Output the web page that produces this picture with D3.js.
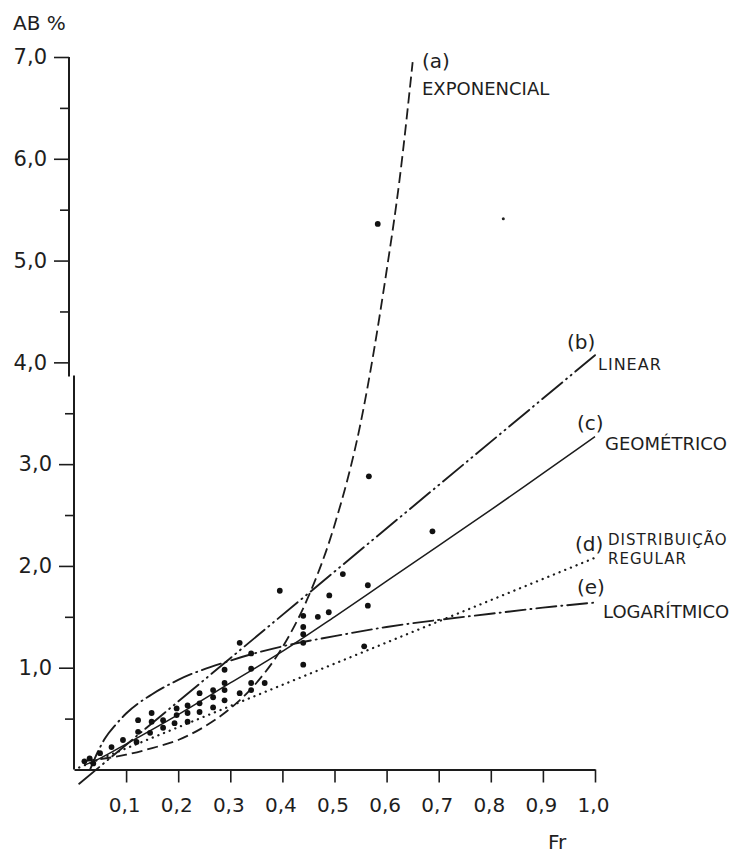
<!DOCTYPE html>
<html>
<head>
<meta charset="utf-8">
<script src="https://cdn.jsdelivr.net/npm/d3@7/dist/d3.min.js"></script>
<style>
  html, body { margin: 0; padding: 0; background: #fff; }
  svg { display: block; }
  text { font-family: "DejaVu Sans", sans-serif; fill: #1e1e1e; }
</style>
</head>
<body>
<svg id="chart" width="739" height="853"></svg>
<script>
// ---------- data ----------
const xTicks = [0.1, 0.2, 0.3, 0.4, 0.5, 0.6, 0.7, 0.8, 0.9, 1.0];
const yTicksUpper = [4, 5, 6, 7];
const yMinorUpper = [4.5, 5.5, 6.5];
const yTicksLower = [1, 2, 3];
const yMinorLower = [0.5, 1.5, 2.5, 3.5];

// observed points (Fr, AB%)
const pointFr = [0.02, 0.03, 0.037, 0.05, 0.072, 0.094, 0.12, 0.123, 0.123, 0.146,
  0.149, 0.149, 0.171, 0.171, 0.193, 0.197, 0.197, 0.218, 0.218, 0.218,
  0.241, 0.241, 0.241, 0.267, 0.267, 0.267, 0.289, 0.289, 0.289, 0.289,
  0.318, 0.318, 0.34, 0.34, 0.34, 0.34, 0.366, 0.395, 0.44, 0.44,
  0.44, 0.44, 0.44, 0.468, 0.489, 0.49, 0.516, 0.557, 0.564, 0.564,
  0.566, 0.583, 0.688];
const pointAB = [0.08, 0.11, 0.06, 0.16, 0.22, 0.29, 0.27, 0.37, 0.485, 0.36,
  0.47, 0.555, 0.41, 0.485, 0.455, 0.535, 0.60, 0.47, 0.555, 0.63,
  0.565, 0.65, 0.75, 0.61, 0.71, 0.78, 0.68, 0.78, 0.85, 0.98,
  0.75, 1.245, 0.78, 0.85, 0.99, 1.14, 0.85, 1.756, 1.03, 1.245,
  1.33, 1.40, 1.51, 1.50, 1.545, 1.71, 1.92, 1.21, 1.61, 1.81,
  2.88, 5.36, 2.34];
// tiny speck
const speckFr = [0.824];
const speckAB = [5.41];

// (a) exponencial
const expFr = [0.02, 0.1, 0.15, 0.2, 0.25, 0.3, 0.35, 0.4, 0.45, 0.5, 0.55, 0.6, 0.625, 0.65];
const expAB = [0.083, 0.145, 0.21, 0.29, 0.42, 0.60, 0.85, 1.2, 1.70, 2.4, 3.4, 4.9, 5.8, 6.95];
// (b) linear
const linFr = [0.01, 1.0];
const linAB = [-0.14, 4.07];
// (c) geométrico
const geoFr = [0.02, 0.05, 0.1, 0.2, 0.3, 0.4, 0.5, 0.6, 0.7, 0.8, 0.9, 1.0];
const geoAB = [0.043, 0.11, 0.25, 0.54, 0.85, 1.16, 1.50, 1.85, 2.20, 2.55, 2.91, 3.27];
// (d) distribuição regular
const regFr = [0.01, 1.0];
const regAB = [0.02, 2.08];
// (e) logarítmico
const logFr = [0.031, 0.04, 0.06, 0.08, 0.1, 0.15, 0.2, 0.3, 0.4, 0.5, 0.6, 0.7, 0.8, 0.9, 1.0];
const logAB = [0.0, 0.11, 0.31, 0.44, 0.55, 0.74, 0.88, 1.07, 1.21, 1.31, 1.40, 1.47, 1.53, 1.59, 1.64];

// ---------- drawing ----------
const svg = d3.select("#chart");
const x = d3.scaleLinear().domain([0, 1]).range([74, 595]);
const y = d3.scaleLinear().domain([0, 7]).range([769.5, 57]);
const fmt = d => d.toFixed(1).replace(".", ",");
const ink = "#1c1c1c";

// x axis
const gx = svg.append("g")
  .attr("transform", `translate(0,${y(0)})`)
  .call(d3.axisBottom(x).tickValues(xTicks).tickSize(13).tickSizeOuter(0)
    .tickPadding(15).tickFormat(fmt));
gx.select(".domain").attr("stroke", ink).attr("stroke-width", 2);
gx.selectAll(".tick line").attr("stroke", ink).attr("stroke-width", 1.6);
gx.selectAll(".tick text").attr("font-size", 20).attr("font-family", "DejaVu Sans")
  .attr("fill", "#222").attr("dx", -2);

// y axis (drawn as two segments, as in the original scan)
function yAxisPart(xpos, majors, minors, lo, hi) {
  const g = svg.append("g").attr("transform", `translate(${xpos},0)`);
  g.call(d3.axisLeft(y).tickValues(majors).tickSize(15).tickSizeOuter(0)
    .tickPadding(7).tickFormat(fmt));
  g.select(".domain").remove();
  g.selectAll(".tick line").attr("stroke", ink).attr("stroke-width", 1.6);
  g.selectAll(".tick text").attr("font-size", 21).attr("font-family", "DejaVu Sans").attr("fill", "#222");
  const gm = svg.append("g").attr("transform", `translate(${xpos},0)`);
  gm.call(d3.axisLeft(y).tickValues(minors).tickSize(9).tickSizeOuter(0).tickFormat(""));
  gm.select(".domain").remove();
  gm.selectAll(".tick line").attr("stroke", ink).attr("stroke-width", 1.6);
  svg.append("line").attr("x1", xpos).attr("x2", xpos)
    .attr("y1", y(lo)).attr("y2", y(hi))
    .attr("stroke", ink).attr("stroke-width", 2);
}
yAxisPart(69, yTicksUpper, yMinorUpper, 3.86, 7);
yAxisPart(74, yTicksLower, yMinorLower, 0, 3.87);

// axis titles
svg.append("text").attr("x", 13).attr("y", 30).attr("font-size", 20).text("AB %");
svg.append("text").attr("x", 548).attr("y", 849).attr("font-size", 20).text("Fr");

// curves
const line = d3.line().x(d => x(d[0])).y(d => y(d[1]));
const smooth = d3.line().x(d => x(d[0])).y(d => y(d[1])).curve(d3.curveMonotoneX);
function drawCurve(fr, ab, gen, dash, width, cap) {
  svg.append("path")
    .datum(fr.map((f, i) => [f, ab[i]]))
    .attr("d", gen)
    .attr("fill", "none")
    .attr("stroke", ink)
    .attr("stroke-width", width)
    .attr("stroke-linecap", cap || "butt")
    .attr("stroke-dasharray", dash);
}
drawCurve(expFr, expAB, smooth, "11 5", 1.8);
drawCurve(linFr, linAB, line, "26 5 1 5 1 5", 1.9, "round");
drawCurve(geoFr, geoAB, smooth, null, 1.5);
drawCurve(regFr, regAB, line, "0.1 6", 2.3, "round");
drawCurve(logFr, logAB, smooth, "20 5 1 5", 1.9, "round");

// points
svg.append("g").selectAll("circle")
  .data(pointFr.map((f, i) => [f, pointAB[i]]))
  .join("circle")
  .attr("cx", d => x(d[0])).attr("cy", d => y(d[1]))
  .attr("r", 2.9).attr("fill", "#111");
svg.append("g").selectAll("circle")
  .data(speckFr.map((f, i) => [f, speckAB[i]]))
  .join("circle")
  .attr("cx", d => x(d[0])).attr("cy", d => y(d[1]))
  .attr("r", 1.5).attr("fill", "#222");

// curve labels
const labels = [
  { t: "(a)", x: 422, y: 68, s: 20, ls: 0 },
  { t: "EXPONENCIAL", x: 422, y: 95, s: 18, ls: 0 },
  { t: "(b)", x: 567, y: 349, s: 20, ls: 0 },
  { t: "LINEAR", x: 598, y: 370, s: 16, ls: 1 },
  { t: "(c)", x: 577, y: 430, s: 20, ls: 0 },
  { t: "GEOMÉTRICO", x: 605, y: 450, s: 18, ls: 0 },
  { t: "(d)", x: 575, y: 551, s: 20, ls: 0 },
  { t: "DISTRIBUIÇÃO", x: 608, y: 545, s: 15, ls: 1 },
  { t: "REGULAR", x: 608, y: 564, s: 15, ls: 1 },
  { t: "(e)", x: 577, y: 594, s: 20, ls: 0 },
  { t: "LOGARÍTMICO", x: 603, y: 618, s: 18, ls: 0 }
];
svg.append("g").selectAll("text").data(labels).join("text")
  .attr("x", d => d.x).attr("y", d => d.y).attr("font-size", d => d.s)
  .attr("letter-spacing", d => d.ls)
  .text(d => d.t);
</script>
</body>
</html>
